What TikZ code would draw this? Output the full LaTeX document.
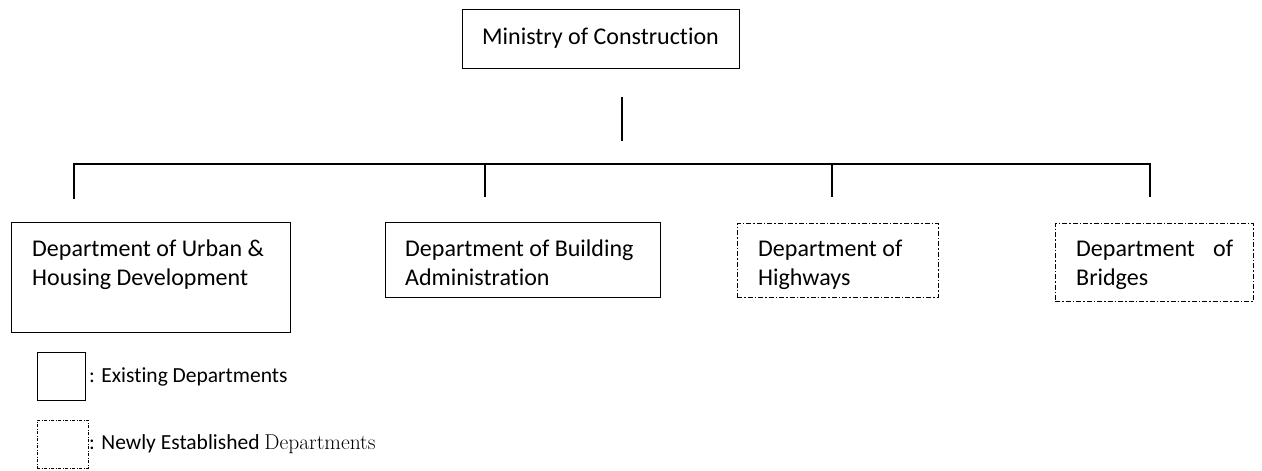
\documentclass[tikz,border=0pt]{standalone}
\usepackage{fontspec}
\setsansfont{Carlito}[Ligatures={NoCommon}]
\renewcommand{\familydefault}{\sfdefault}
\begin{document}
\begin{tikzpicture}[x=1pt,y=-1pt,
  box/.style={draw, line width=1pt, inner sep=0pt, outer sep=0pt, anchor=north west},
  newbox/.style={box, dash pattern=on 5pt off 2pt on 1.5pt off 2pt},
  txt/.style={font=\fontsize{24}{29}\selectfont, align=left, inner sep=0pt, anchor=north west},
  leg/.style={font=\fontsize{21.5}{26}\selectfont, inner sep=0pt, anchor=west},
  conn/.style={line width=1.2pt}]
\useasboundingbox (0,0) rectangle (1262,471);
% top
\node[box, minimum width=277pt, minimum height=59pt] (min) at (462,9) {};
\node[font=\fontsize{24}{29}\selectfont, inner sep=0pt] (mint) at (min.center) {Ministry of Construction};
% departments
\node[box, minimum width=279pt, minimum height=110pt] (urb) at (11,222) {};
\node[txt] (urbt) at (32,240) {Department of Urban \&\\Housing Development};
\node[box, minimum width=275pt, minimum height=75pt] (bld) at (385,222) {};
\node[txt] (bldt) at (405,240) {Department of Building\\Administration};
\node[newbox, minimum width=201pt, minimum height=74pt] (hwy) at (737,223) {};
\node[txt] (hwyt) at (758,240) {Department of\\Highways};
\node[newbox, minimum width=198pt, minimum height=78pt] (brg) at (1055,223) {};
\node[txt] (brgt) at (1076,240) {\hbox to 157pt{Department\hfill of}\\Bridges};
% connectors
\coordinate (s1) at (622,97);
\coordinate (s2) at (622,141);
\coordinate (hl) at (74,164);
\coordinate (hr) at (1150,164);
\coordinate (d1) at (74,199);
\coordinate (d2) at (485,164);
\coordinate (d2b) at (485,197);
\coordinate (d3) at (832,164);
\coordinate (d3b) at (832,197);
\coordinate (d4b) at (1150,197);
\draw[conn] (s1) -- (s2);
\draw[conn] (d1) -- (hl) -- (hr) -- (d4b);
\draw[conn] (d2) -- (d2b);
\draw[conn] (d3) -- (d3b);
% legend
\node[box, line width=0.9pt, minimum width=48pt, minimum height=48pt] (lg1) at (37,352) {};
\node[leg] (lg1t) at (89,377) {: Existing Departments};
\node[box, line width=0.7pt, dash pattern=on 3pt off 1.5pt on 1pt off 1.5pt, minimum width=51pt, minimum height=48pt] (lg2) at (37,420) {};
\node[leg] (lg2t) at (89,444) {: Newly Established {\rmfamily Departments}};
\end{tikzpicture}
\end{document}
